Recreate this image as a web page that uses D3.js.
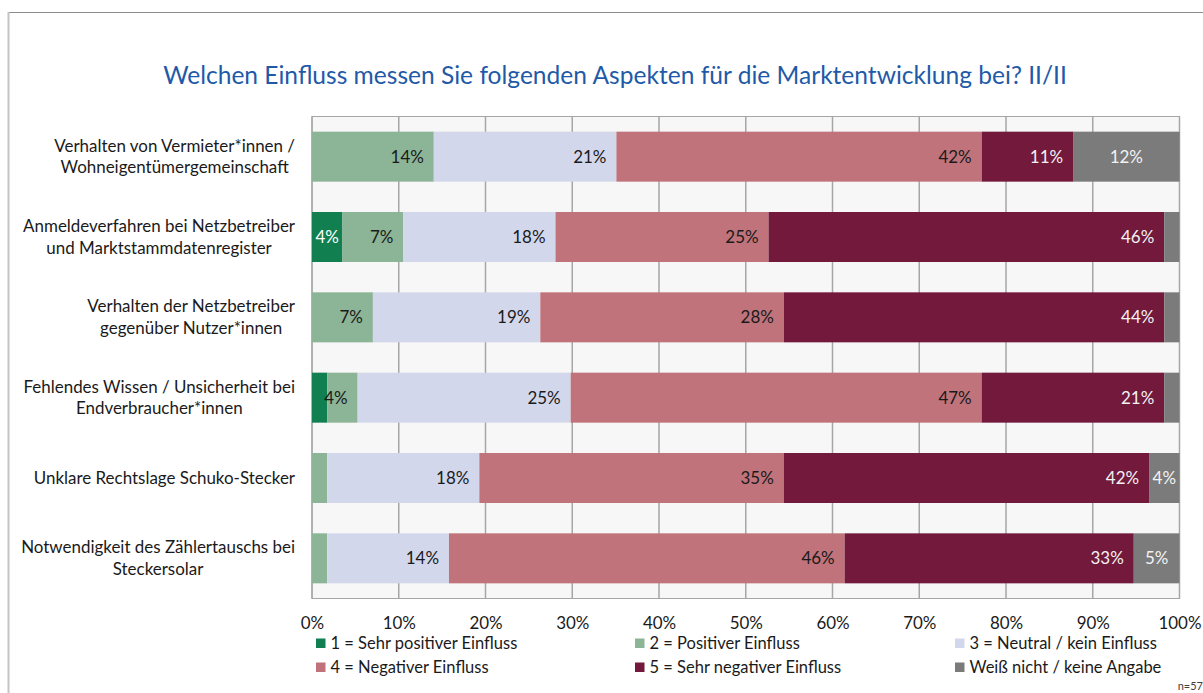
<!DOCTYPE html>
<html>
<head>
<meta charset="utf-8">
<script src="https://cdn.jsdelivr.net/npm/d3@7"></script>
<style>
  html, body { margin: 0; padding: 0; background: #ffffff; }
  svg { display: block; }
</style>
</head>
<body>
<div id="chart"></div>
<script>
// ---------- DATA ----------
const title = "Welchen Einfluss messen Sie folgenden Aspekten für die Marktentwicklung bei? II/II";
const categories = [
  ["Verhalten von Vermieter*innen /", "Wohneigentümergemeinschaft"],
  ["Anmeldeverfahren bei Netzbetreiber", "und Marktstammdatenregister"],
  ["Verhalten der Netzbetreiber", "gegenüber Nutzer*innen"],
  ["Fehlendes Wissen / Unsicherheit bei", "Endverbraucher*innen"],
  ["Unklare Rechtslage Schuko-Stecker"],
  ["Notwendigkeit des Zählertauschs bei", "Steckersolar"]
];
const seriesNames = [
  "1 = Sehr positiver Einfluss",
  "2 = Positiver Einfluss",
  "3 = Neutral / kein Einfluss",
  "4 = Negativer Einfluss",
  "5 = Sehr negativer Einfluss",
  "Weiß nicht / keine Angabe"
];
const sehrPositiv  = [0,     3.51,  0,     1.75,  0,     0];
const positiv      = [14.04, 7.02,  7.02,  3.51,  1.75,  1.75];
const neutral      = [21.05, 17.54, 19.30, 24.56, 17.54, 14.04];
const negativ      = [42.11, 24.56, 28.07, 47.37, 35.09, 45.61];
const sehrNegativ  = [10.53, 45.61, 43.86, 21.05, 42.11, 33.33];
const weissNicht   = [12.28, 1.75,  1.75,  1.75,  3.51,  5.26];
const seriesValues = [sehrPositiv, positiv, neutral, negativ, sehrNegativ, weissNicht];
const xTicks = [0, 10, 20, 30, 40, 50, 60, 70, 80, 90, 100];
const sampleNote = "n=57";

// ---------- STYLE ----------
const colors = ["#117F50", "#8CB496", "#D3D7EB", "#C0737A", "#72193C", "#7B7B7B"];
const labelColors = ["#FFFFFF", "#1A1A1A", "#1A1A1A", "#1A1A1A", "#F2F2F2", "#F2F2F2"];
const centeredSeries = [true, false, false, false, false, true];
const FONT = "Lato, 'Open Sans', sans-serif";

const W = 1203, H = 693;
const plot = { left: 312, right: 1179.5, top: 116.5, bottom: 598.5 };

const svg = d3.select("#chart").append("svg")
  .attr("width", W).attr("height", H)
  .style("font-family", FONT);

// measuring helper
function measure(str, size) {
  const t = svg.append("text").attr("font-size", size).attr("font-family", FONT).text(str);
  const w = t.node().getComputedTextLength();
  t.remove();
  return w;
}
const titleSize = 100 * 904 / measure(title, 100);
const baseSize = 100 * 272 / measure(categories[1][0], 100);
const legendSize = 100 * 187 / measure(seriesNames[0], 100);

// outer frame
svg.append("line").attr("x1", 8).attr("x2", W).attr("y1", 12.5).attr("y2", 12.5)
  .attr("stroke", "#8C8C8C").attr("stroke-width", 1);
svg.append("line").attr("x1", 8.5).attr("x2", 8.5).attr("y1", 12).attr("y2", H)
  .attr("stroke", "#C4C4C4").attr("stroke-width", 2);

// title
svg.append("text")
  .attr("x", 615).attr("y", 75).attr("dy", "0.35em")
  .attr("text-anchor", "middle")
  .attr("font-size", titleSize)
  .attr("fill", "#1F5AA8")
  .text(title);

// scales
const x = d3.scaleLinear().domain([0, 100]).range([plot.left, plot.right]);
const y = d3.scaleBand().domain(d3.range(categories.length))
  .range([plot.top, plot.bottom]).paddingInner(0.3776).paddingOuter(0.1888);

// plot background
svg.append("rect")
  .attr("x", plot.left).attr("y", plot.top)
  .attr("width", plot.right - plot.left).attr("height", plot.bottom - plot.top)
  .attr("fill", "#F7F7F7").attr("stroke", "#A6A6A6").attr("stroke-width", 1);

// gridlines
svg.append("g").selectAll("line").data(xTicks).join("line")
  .attr("x1", d => x(d)).attr("x2", d => x(d))
  .attr("y1", plot.top).attr("y2", plot.bottom)
  .attr("stroke", "#A6A6A6").attr("stroke-width", 1.5);

// stacked data
const stackData = categories.map((c, i) => {
  let acc = 0;
  return seriesValues.map((vals, s) => {
    const seg = { cat: i, s, v: vals[i], x0: acc, x1: acc + vals[i] };
    acc += vals[i];
    return seg;
  });
}).flat();

// bars
svg.append("g").selectAll("rect").data(stackData.filter(d => d.v > 0)).join("rect")
  .attr("x", d => x(d.x0))
  .attr("y", d => y(d.cat))
  .attr("width", d => x(d.x1) - x(d.x0))
  .attr("height", y.bandwidth())
  .attr("fill", d => colors[d.s]);

// data labels
svg.append("g").selectAll("text").data(stackData.filter(d => d.v >= 3)).join("text")
  .attr("x", d => centeredSeries[d.s] ? (x(d.x0) + x(d.x1)) / 2 : x(d.x1) - 10)
  .attr("y", d => y(d.cat) + y.bandwidth() / 2)
  .attr("dy", "0.35em")
  .attr("text-anchor", d => centeredSeries[d.s] ? "middle" : "end")
  .attr("font-size", baseSize)
  .attr("fill", d => labelColors[d.s])
  .text(d => Math.round(d.v) + "%");

// category labels (block right-aligned, lines centered within block)
const catG = svg.append("g");
categories.forEach((lines, i) => {
  const maxW = d3.max(lines, l => measure(l, baseSize));
  const cx = 295 - maxW / 2;
  const cy = y(i) + y.bandwidth() / 2;
  const lh = 21.7;
  lines.forEach((l, j) => {
    catG.append("text")
      .attr("x", cx)
      .attr("y", cy + (j - (lines.length - 1) / 2) * lh)
      .attr("dy", "0.35em")
      .attr("text-anchor", "middle")
      .attr("font-size", baseSize)
      .attr("fill", "#1A1A1A")
      .text(l);
  });
});

// x axis
const axis = svg.append("g")
  .attr("transform", `translate(0,${plot.bottom})`)
  .call(d3.axisBottom(x).tickValues(xTicks).tickSize(0).tickFormat(d => d + "%"));
axis.select(".domain").remove();
axis.selectAll("text")
  .attr("y", 623 - plot.bottom).attr("dy", "0.35em")
  .attr("font-size", baseSize).attr("font-family", FONT).attr("fill", "#1A1A1A");

// legend
const legCols = [316, 635, 955];
const legRows = [643, 667];
const leg = svg.append("g").selectAll("g").data(seriesNames).join("g")
  .attr("transform", (d, i) => `translate(${legCols[i % 3]},${legRows[Math.floor(i / 3)]})`);
leg.append("rect").attr("x", 0).attr("y", -4.5).attr("width", 9.5).attr("height", 9.5)
  .attr("fill", (d, i) => colors[i]);
leg.append("text").attr("x", 14.5).attr("dy", "0.35em")
  .attr("font-size", legendSize).attr("fill", "#1A1A1A")
  .text(d => d);

// sample note
svg.append("text")
  .attr("x", 1203).attr("y", 686).attr("dy", "0.35em")
  .attr("text-anchor", "end")
  .attr("font-size", 11).attr("fill", "#404040")
  .text(sampleNote);
</script>
</body>
</html>
